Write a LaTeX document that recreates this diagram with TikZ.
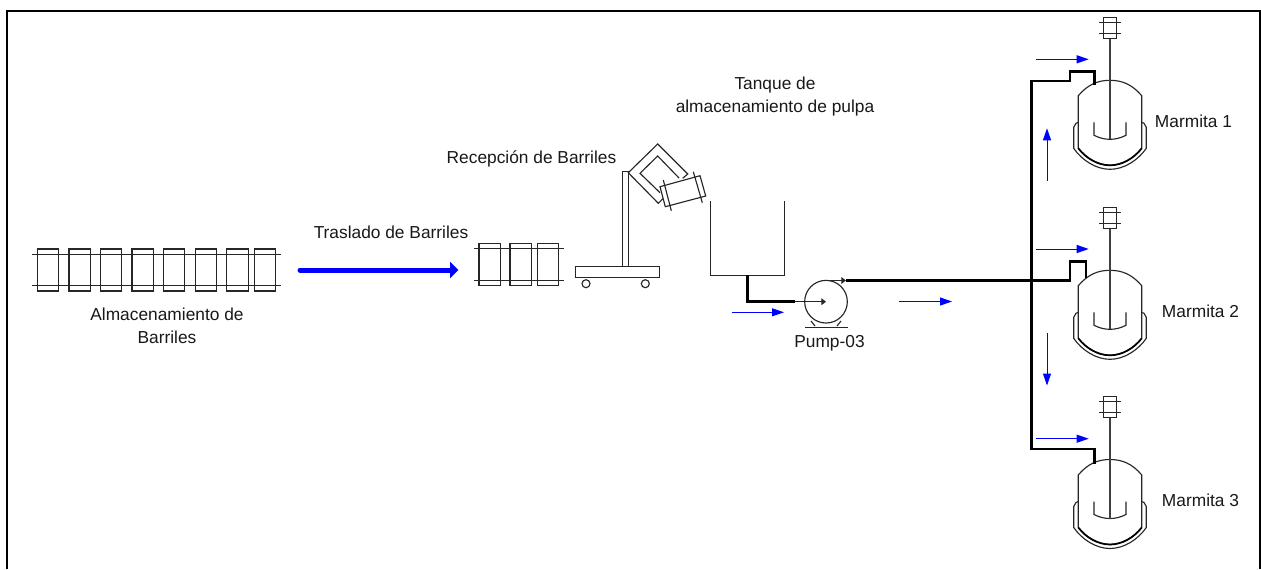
\documentclass[tikz,border=0pt]{standalone}
\usepackage{fontspec}
\setmainfont{Liberation Sans}
\usetikzlibrary{arrows.meta}
\tikzset{
  every node/.style={inner sep=0pt,outer sep=0pt},
  lbl/.style={font=\fontsize{13}{17}\selectfont,align=center,text=black!90},
  thin1/.style={draw=black!85,line width=0.85pt},
  pipe/.style={draw=black,line width=2.2pt,line cap=butt,line join=miter},
  flow/.style={draw=blue,line width=0.75pt,-{Triangle[length=9pt,width=6pt]}},
  kettle/.pic={
    \draw[thin1,fill=white] (-31.7,15.4) .. controls (-22,4) and (-12,0) .. (0,0) .. controls (12,0) and (22,4) .. (31.7,15.4) -- (31.7,68) .. controls (24,78) and (12,85) .. (0,85) .. controls (-12,85) and (-24,78) .. (-31.7,68) -- cycle;
    \draw[draw=black,line width=1.3pt] (31.7,68) .. controls (24,78) and (12,85) .. (0,85) .. controls (-12,85) and (-24,78) .. (-31.7,68);
    \draw[thin1] (-31.7,42) -- (-34,43) -- (-36.3,47) -- (-36.3,68) .. controls (-28,80) and (-14,89) .. (0,89) .. controls (14,89) and (28,80) .. (36.3,68) -- (36.3,47) -- (34,43) -- (31.7,42);
    \draw[thin1] (-16,42) -- (-16,55) .. controls (-10,58) and (-5,59) .. (0,59) .. controls (5,59) and (10,58) .. (16,55) -- (16,42);
    \draw[draw=black!75,line width=1pt] (0,-42) -- (0,59);
    \draw[thin1] (-6.7,-63) rectangle (6.7,-42);
    \draw[thin1] (-11,-57.6) -- (11,-57.6) (-11,-47) -- (11,-47);
  }
}
\newcommand{\barrelbox}[3]{\node[draw=black!85,line width=0.85pt,minimum width=16pt,minimum height=#3,anchor=center] (#1) at (#2) {};}
\begin{document}
\begin{tikzpicture}[x=0.75pt,y=-0.75pt]
\useasboundingbox (0,0) rectangle (1261,569);
\fill[white] (0,0) rectangle (1261,569);
% frame
\draw[black,line width=1.5pt] (7,569) -- (7,11) -- (1260,11) -- (1260,569);
% stored barrels
\foreach \n/\x in {a/48,b/79.7,c/111,d/142.7,e/174,f/205.8,g/237.5,h/264.8}{
  \barrelbox{s\n}{\x,270}{31.5pt}
}
\draw[thin1] (32,254.3) -- (281,254.3) (32,285.7) -- (281,285.7);
% received barrels
\foreach \n/\x in {a/489.7,b/520.7,c/548}{
  \barrelbox{r\n}{\x,264.5}{31.5pt}
}
\draw[thin1] (473.7,248.7) -- (564,248.7) (473.7,280.3) -- (564,280.3);
% cart
\draw[thin1] (575.3,266.3) rectangle (659.7,277.3);
\draw[thin1] (586,283.7) circle[radius=4] (645.3,283.7) circle[radius=4];
\draw[thin1] (622.7,266.3) -- (622.7,171.7) -- (628.5,171.7) -- (628.5,266.3);
% tilter
\draw[thin1] (663.3,198.3) -- (658.3,203.3) -- (628.3,172.7) -- (657.7,144) -- (687.7,174) -- (682.7,178.3);
\draw[thin1] (660,192.7) -- (640,173.3) -- (657.7,156) -- (679,178);
\draw[thin1,fill=white] (660,186.7) -- (700,175.7) -- (705.7,196) -- (665.3,206.7) -- cycle;
\draw[thin1] (663.3,180) -- (671.3,210.7) (693.3,171.7) -- (702.3,202.7);
% tank
\draw[thin1,line width=0.9pt] (710.3,201.3) -- (710.3,275.3) -- (784.3,275.3) -- (784.3,201.3);
% pump
\node[draw=black!85,line width=0.85pt,circle,minimum size=32pt] (pump) at (826,301.7) {};
\draw[thin1] (805,327.3) -- (847.7,327.3);
\draw[thin1] (811,321) -- (815,326) (841,321) -- (837,326);
% kettles
\pic at (1110,80.3) {kettle};
\pic at (1110,270.3) {kettle};
\pic at (1110,459.5) {kettle};
% coordinates
\coordinate (tankout) at (747.3,275.3);
\coordinate (tankbend) at (747.3,301.7);
\coordinate (pipein) at (795,301.7);
\coordinate (pumpc) at (826,301.7);
\coordinate (pumptop) at (826,280.5);
\coordinate (pipeout) at (846,280.5);
\coordinate (tee) at (1070,280.5);
\coordinate (m1) at (1094.3,84.5);
\coordinate (m2) at (1086,278.3);
\coordinate (m3) at (1094.3,463.5);
\draw[pipe] (tankout) -- (tankbend) -- (pipein);
\draw[thin1,-{Triangle[length=3.5pt,width=5pt]}] (pipein) -- (pumpc);
\draw[thin1,-{Triangle[length=3.5pt,width=5pt]}] (pumptop) -- (pipeout);
\draw[pipe] (pipeout) -- (tee) -- (1070,261.7) -- (1086,261.7) -- (m2);
\draw[pipe] (m1) -- (1094.3,71.7) -- (1070,71.7) -- (1070,81) -- (1031.3,81) -- (1031.3,449) -- (1094.3,449) -- (m3);
% flow arrows
\coordinate (fa) at (300,270);
\coordinate (fb) at (458.3,270);
\draw[blue,line width=3.75pt,line cap=round,-{Triangle[length=6.2pt,width=12pt]}] (fa) -- (fb);
\draw[flow] (731.7,312.3) -- (784,312.3);
\draw[flow] (899,301.5) -- (952,301.5);
\draw[flow] (1036,59.3) -- (1088.7,59.3);
\draw[flow] (1036,249) -- (1088.7,249);
\draw[flow] (1036,438.7) -- (1088.7,438.7);
\draw[flow] (1047,180.7) -- (1047,128.3);
\draw[flow] (1047,333) -- (1047,385.5);
% labels
\node[lbl] (l1) at (167,325.5) {Almacenamiento de\\Barriles};
\node[lbl] (l2) at (391,232.5) {Traslado de Barriles};
\node[lbl] (l3) at (531.5,158.5) {Recepción de Barriles};
\node[lbl] (l4) at (775,96.5) {Tanque de\\almacenamiento de pulpa};
\node[lbl] (l5) at (829.5,343) {Pump-03};
\node[lbl] (l6) at (1193.5,121.5) {Marmita 1};
\node[lbl] (l7) at (1200.5,311) {Marmita 2};
\node[lbl] (l8) at (1200.5,500) {Marmita 3};
\end{tikzpicture}
\end{document}
